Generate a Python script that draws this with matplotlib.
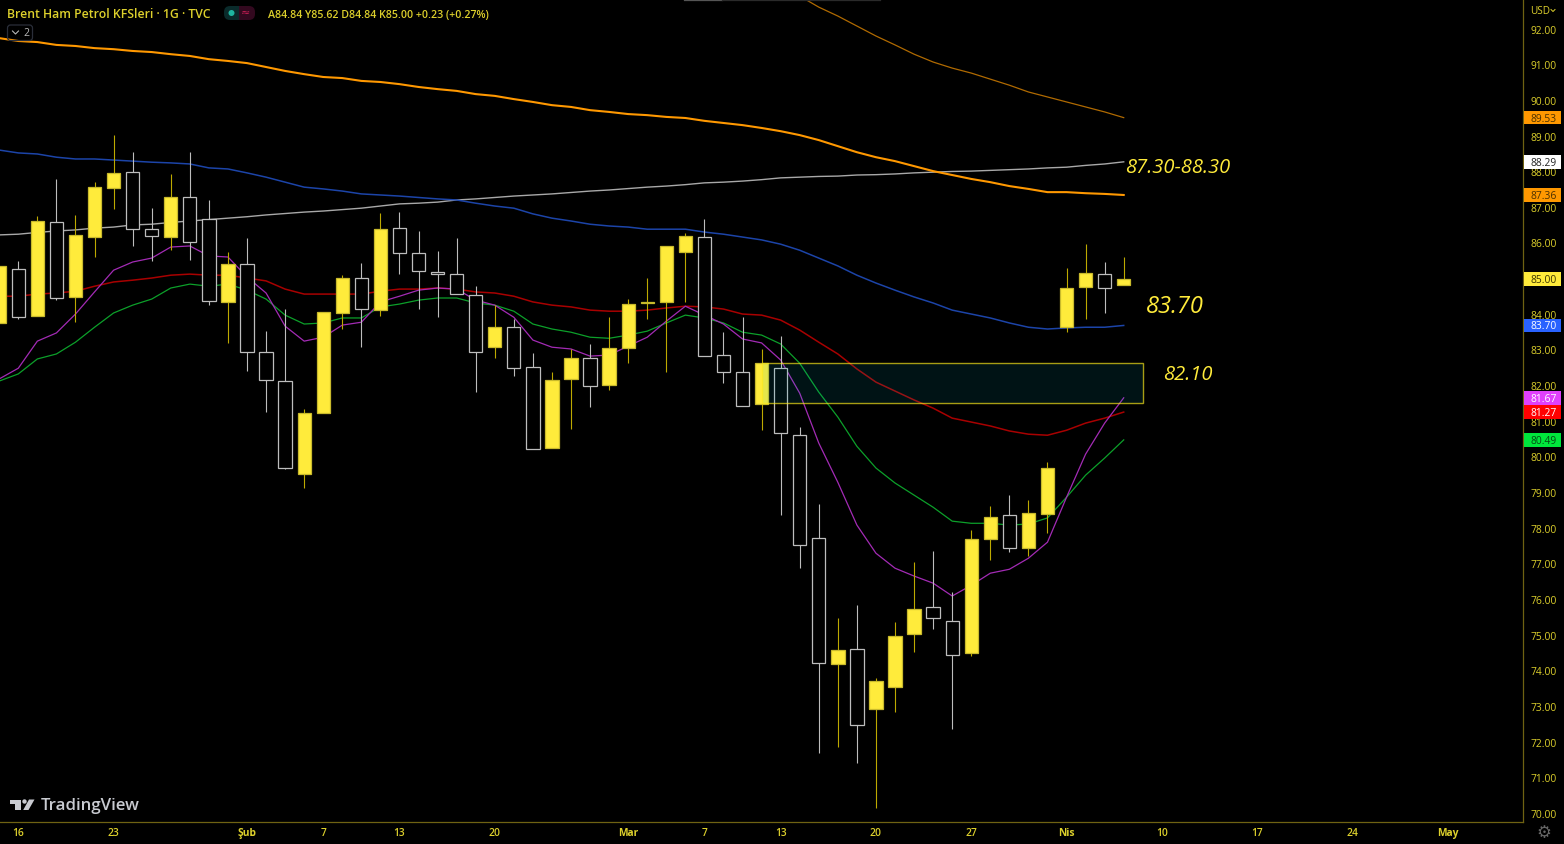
import matplotlib
matplotlib.use('Agg')
import matplotlib.pyplot as plt
from matplotlib.patches import Rectangle, FancyBboxPatch, Polygon, Circle
from matplotlib.transforms import blended_transform_factory
import numpy as np

W, H = 1564, 844

# daily candles, first one is cut by the left edge
opens = [83.77, 85.28, 83.96, 86.60, 84.50, 86.18, 87.55, 88.00, 86.40, 86.18, 87.30, 86.68, 84.36, 85.42, 82.95, 82.14,
         79.53, 81.24, 84.05, 85.03, 84.13, 86.43, 85.73, 85.20, 85.14, 84.55, 83.09, 83.65, 82.53, 80.26, 82.20, 82.78,
         82.03, 83.06, 84.33, 84.36, 85.76, 86.18, 82.87, 82.39, 81.49, 82.50, 80.62, 77.73, 74.20, 74.62, 72.94, 73.55,
         75.04, 75.80, 75.40, 74.51, 77.71, 78.38, 77.45, 78.41, 83.65, 84.78, 85.14, 84.84]
highs = [85.37, 85.51, 86.77, 87.81, 86.80, 87.72, 89.04, 88.56, 86.99, 87.95, 88.56, 87.22, 85.76, 86.15, 83.54, 84.16,
         81.35, 84.07, 85.11, 85.45, 86.85, 86.88, 86.35, 85.79, 86.15, 84.80, 84.27, 83.88, 82.92, 82.39, 83.04, 83.18,
         83.93, 84.44, 85.03, 85.93, 86.29, 86.68, 83.51, 83.93, 83.04, 83.40, 80.85, 78.69, 75.49, 75.85, 73.81, 75.38,
         77.06, 77.37, 76.22, 77.96, 78.63, 78.94, 78.80, 79.87, 85.31, 85.98, 85.48, 85.62]
lows = [83.77, 83.88, 83.96, 84.41, 83.79, 85.62, 86.97, 85.93, 85.51, 85.81, 85.53, 84.27, 83.20, 82.42, 81.27, 79.67,
        79.14, 81.24, 83.60, 83.09, 83.96, 85.14, 84.16, 83.93, 84.58, 81.83, 82.78, 82.28, 80.23, 80.26, 80.79, 81.41,
        81.89, 82.64, 83.88, 82.39, 84.36, 82.84, 82.08, 81.44, 80.76, 78.38, 76.89, 71.70, 71.87, 71.42, 70.16, 72.85,
        74.54, 75.18, 72.37, 74.42, 77.12, 77.34, 77.23, 77.87, 83.51, 83.88, 84.05, 84.84]
closes = [85.37, 83.93, 86.63, 84.47, 86.24, 87.58, 87.98, 86.40, 86.21, 87.30, 86.04, 84.38, 85.42, 82.95, 82.17, 79.70,
          81.24, 84.07, 85.03, 84.16, 86.40, 85.73, 85.23, 85.14, 84.58, 82.95, 83.65, 82.50, 80.23, 82.17, 82.78, 82.00,
          83.06, 84.30, 84.36, 85.93, 86.21, 82.84, 82.39, 81.44, 82.64, 80.68, 77.54, 74.23, 74.59, 72.49, 73.72, 74.98,
          75.74, 75.49, 74.45, 77.71, 78.32, 77.45, 78.44, 79.70, 84.75, 85.17, 84.75, 85.00]

ema_purple = [82.20, 82.50, 83.26, 83.49, 84.02, 84.64, 85.25, 85.48, 85.59, 85.90, 85.93, 85.65, 85.62, 85.06, 84.61,
              83.68, 83.26, 83.37, 83.71, 83.79, 84.36, 84.52, 84.69, 84.75, 84.72, 84.41, 84.27, 83.93, 83.29, 83.09,
              83.04, 82.84, 82.87, 83.12, 83.37, 83.82, 84.24, 83.99, 83.74, 83.32, 83.21, 82.73, 81.80, 80.40, 79.30,
              78.10, 77.31, 76.89, 76.67, 76.47, 76.11, 76.41, 76.75, 76.86, 77.17, 77.62, 78.88, 80.09, 80.96, 81.67]
ema_green = [82.14, 82.34, 82.76, 82.90, 83.23, 83.65, 84.05, 84.27, 84.44, 84.75, 84.86, 84.80, 84.86, 84.69, 84.44,
             83.99, 83.74, 83.77, 83.91, 83.91, 84.22, 84.30, 84.41, 84.47, 84.47, 84.33, 84.27, 84.10, 83.74, 83.60,
             83.51, 83.37, 83.34, 83.43, 83.54, 83.77, 83.99, 83.91, 83.77, 83.51, 83.43, 83.18, 82.64, 81.83, 81.13,
             80.31, 79.70, 79.28, 78.94, 78.60, 78.21, 78.15, 78.15, 78.10, 78.13, 78.30, 78.88, 79.50, 79.98, 80.49]
ema_red = [84.52, 84.52, 84.58, 84.61, 84.66, 84.80, 84.92, 84.97, 85.03, 85.11, 85.14, 85.11, 85.11, 85.03, 84.95,
           84.72, 84.58, 84.58, 84.58, 84.58, 84.66, 84.72, 84.72, 84.75, 84.72, 84.64, 84.61, 84.52, 84.36, 84.27,
           84.22, 84.13, 84.10, 84.10, 84.13, 84.19, 84.24, 84.22, 84.16, 84.02, 83.99, 83.85, 83.57, 83.23, 82.90,
           82.48, 82.11, 81.86, 81.61, 81.38, 81.10, 80.99, 80.88, 80.74, 80.65, 80.62, 80.76, 80.96, 81.10, 81.27]
ema_blue = [88.62, 88.54, 88.51, 88.42, 88.37, 88.37, 88.34, 88.31, 88.28, 88.26, 88.23, 88.12, 88.09, 87.98, 87.86,
            87.72, 87.58, 87.53, 87.47, 87.39, 87.36, 87.33, 87.29, 87.25, 87.22, 87.13, 87.05, 86.99, 86.83, 86.71,
            86.63, 86.54, 86.49, 86.46, 86.40, 86.40, 86.40, 86.32, 86.26, 86.18, 86.10, 85.98, 85.81, 85.59, 85.37,
            85.11, 84.89, 84.69, 84.50, 84.33, 84.13, 84.02, 83.91, 83.77, 83.65, 83.60, 83.63, 83.65, 83.65, 83.70]
sma_grey = [86.24, 86.26, 86.31, 86.35, 86.38, 86.43, 86.46, 86.52, 86.54, 86.59, 86.63, 86.67, 86.71, 86.75, 86.80,
            86.84, 86.88, 86.91, 86.95, 86.99, 87.05, 87.11, 87.13, 87.16, 87.22, 87.25, 87.29, 87.33, 87.36, 87.39,
            87.43, 87.47, 87.50, 87.54, 87.58, 87.61, 87.65, 87.70, 87.72, 87.75, 87.79, 87.84, 87.86, 87.88, 87.89,
            87.92, 87.93, 87.95, 87.98, 88.00, 88.02, 88.03, 88.05, 88.07, 88.09, 88.12, 88.14, 88.19, 88.23, 88.29]
ema_orange = [91.76, 91.68, 91.65, 91.57, 91.54, 91.48, 91.45, 91.40, 91.37, 91.31, 91.26, 91.17, 91.12, 91.06, 90.95,
              90.84, 90.75, 90.67, 90.64, 90.56, 90.53, 90.47, 90.39, 90.33, 90.28, 90.19, 90.14, 90.05, 89.97, 89.88,
              89.83, 89.74, 89.69, 89.63, 89.60, 89.55, 89.52, 89.44, 89.38, 89.32, 89.24, 89.15, 89.04, 88.90, 88.73,
              88.56, 88.42, 88.31, 88.17, 88.03, 87.92, 87.81, 87.72, 87.61, 87.53, 87.44, 87.44, 87.41, 87.39, 87.36]
# only the end of this one is inside the window
thin_orange = [92.94, 92.63, 92.38, 92.10, 91.82, 91.57, 91.31, 91.09, 90.92, 90.78, 90.61, 90.44, 90.25, 90.11, 89.97,
               89.83, 89.69, 89.53]

zone_low, zone_high = 81.52, 82.64

date_pos = [0, 5, 12, 16, 20, 25, 32, 36, 40, 45, 50, 55, 60, 65, 70, 75]
date_labels = ['16', '23', 'Şub', '7', '13', '20', 'Mar', '7', '13', '20', '27', 'Nis', '10', '17', '24', 'May']
month_labels = ['Şub', 'Mar', 'Nis', 'May']

price_ticks = list(range(70, 93))

tag_values = [89.53, 88.29, 87.36, 85.00, 83.70, 81.67, 81.27, 80.49]
tag_fills = ['#FF9800', '#FFFFFF', '#FF9800', '#FFEB3B', '#2962FF', '#E040FB', '#FF0000', '#00E63C']
tag_texts = ['#4a3000', '#222222', '#4a3000', '#3a3400', '#FFFFFF', '#FFFFFF', '#FFFFFF', '#044a14']

YELLOW = '#FFEB3B'
LABEL = '#DDD02C'
FONT = 'Open Sans'

plt.rcParams['font.family'] = [FONT, 'DejaVu Sans']

fig = plt.figure(figsize=(W / 100, H / 100), dpi=100, facecolor='black')
ax = fig.add_axes([0, 1 - 822 / H, 1523 / W, 822 / H], facecolor='black')

idx = np.arange(-1, 59)
ax.set_xlim(-0.96, 78.95)
ax.set_ylim(69.77, 92.83)

ax.plot(idx, sma_grey, color='#A8A8A8', lw=1.0, zorder=2)
ax.plot(idx, ema_orange, color='#FF9800', lw=1.5, zorder=2)
ax.plot(idx[-len(thin_orange):], thin_orange, color='#B06A00', lw=0.9, zorder=2)
ax.plot(idx, ema_blue, color='#1C44A8', lw=1.1, zorder=2)
ax.plot(idx, ema_red, color='#A80000', lw=1.1, zorder=2)
ax.plot(idx, ema_green, color='#0CA02A', lw=0.9, zorder=2)
ax.plot(idx, ema_purple, color='#A32BB5', lw=0.9, zorder=2)

for i, o, h, l, c in zip(idx, opens, highs, lows, closes):
    up = c >= o
    ax.vlines(i, l, h, color='#BDA900' if up else '#BDBDBD', lw=0.8, zorder=3)
    ax.bar(i, abs(c - o), bottom=min(o, c), width=0.7,
           facecolor=YELLOW if up else 'black',
           edgecolor='#C9BA2C' if up else '#BDBDBD',
           linewidth=0.9, zorder=4)

ax.add_patch(Rectangle((39, zone_low), 20, zone_high - zone_low, facecolor=(0, 0.74, 0.83, 0.1),
                       edgecolor=(1, 0.92, 0.1, 0.66), linewidth=1, zorder=5))

ax.text(58.07, 88.12, '87.30-88.30', color=YELLOW, fontsize=14.5, style='italic', fontweight='medium', va='center', zorder=6)
ax.text(59.17, 84.22, '83.70', color=YELLOW, fontsize=17, style='italic', fontweight='medium', va='center', zorder=6)
ax.text(60.06, 82.30, '82.10', color=YELLOW, fontsize=14.5, style='italic', fontweight='medium', va='center', zorder=6)

for s in ['top', 'left']:
    ax.spines[s].set_visible(False)
for s in ['right', 'bottom']:
    ax.spines[s].set_color('#6F6212')
    ax.spines[s].set_linewidth(0.9)
ax.set_axisbelow(True)

ax.yaxis.tick_right()
ax.set_yticks(price_ticks)
ax.set_yticklabels([f'{p:.2f}' for p in price_ticks], ha='center', va='center_baseline', fontsize=7.4, color=LABEL,
                   fontweight='medium')
ax.tick_params(axis='y', length=0, pad=15)
ax.set_xticks(date_pos)
ax.set_xticklabels(date_labels, fontsize=7.4, color=LABEL, va='center', fontweight='semibold')
ax.tick_params(axis='x', length=0, pad=8.6)
for t in ax.get_xticklabels():
    if t.get_text() in month_labels:
        t.set_fontweight('bold')

# price tags hang over the right scale
tr = blended_transform_factory(ax.transAxes, ax.transData)
for v, fill, tc in zip(tag_values, tag_fills, tag_texts):
    ax.add_patch(Rectangle((1524 / 1523, v - 0.19), 37 / 1523, 0.38, transform=tr, facecolor=fill,
                           edgecolor='none', clip_on=False, zorder=7))
    ax.text(1544 / 1523, v, f'{v:.2f}', transform=tr, color=tc, fontsize=7.4, ha='center', va='center_baseline',
            fontweight='medium', clip_on=False, zorder=8)

# everything around the chart, in screen pixels
chrome = fig.add_axes([0, 0, 1, 1], facecolor='none')
chrome.set_xlim(0, W)
chrome.set_ylim(H, 0)
chrome.axis('off')

chrome.text(7, 15, 'Brent Ham Petrol KFSleri · 1G · TVC', color=LABEL, fontsize=8.8, fontweight='semibold', va='center')
chrome.text(268, 15.5, 'A84.84 Y85.62 D84.84 K85.00 +0.23 (+0.27%)', color=LABEL, fontsize=7.68, fontweight='semibold', va='center')

chrome.add_patch(FancyBboxPatch((224, 6), 16, 14, boxstyle='round,pad=0,rounding_size=6', facecolor='#0A2B2B', edgecolor='none'))
chrome.add_patch(FancyBboxPatch((240, 6), 15, 14, boxstyle='round,pad=0,rounding_size=6', facecolor='#33091F', edgecolor='none'))
chrome.add_patch(Rectangle((234, 6), 6, 14, facecolor='#0A2B2B', edgecolor='none'))
chrome.add_patch(Rectangle((239, 6), 7, 14, facecolor='#33091F', edgecolor='none'))
chrome.add_patch(Circle((231.5, 13), 3, facecolor='#1FB5A0', edgecolor='none'))
chrome.text(246, 13, '≈', color='#C81E55', fontsize=8, ha='center', va='center', family='DejaVu Sans')

chrome.add_patch(FancyBboxPatch((7.5, 25), 25, 15.5, boxstyle='round,pad=0,rounding_size=3', facecolor='none', edgecolor='#2A2E39', linewidth=0.9))
chrome.plot([12.5, 15.5, 18.5], [31, 34, 31], color='#B8B8B8', lw=0.8)
chrome.text(26, 33, '2', color='#B8B8B8', fontsize=7.5, ha='center', va='center')

chrome.text(1540, 11, 'USD', color=LABEL, fontsize=7.2, ha='center', va='center')
chrome.plot([1551, 1553, 1555], [9.5, 11.5, 9.5], color=LABEL, lw=0.7)

chrome.plot([684, 722], [0.4, 0.4], color='#555555', lw=0.9)
chrome.plot([722, 880], [0.4, 0.4], color='#2A2A2A', lw=0.9)

logo = '#C9CBD1'
chrome.add_patch(Polygon([(9.5, 799.5), (21, 799.5), (21, 810), (15, 810), (15, 803.5), (9.5, 803.5)], facecolor=logo, edgecolor='none'))
chrome.add_patch(Circle((24.5, 801.5), 2.2, facecolor=logo, edgecolor='none'))
chrome.add_patch(Polygon([(29, 799.5), (34.5, 799.5), (28.5, 810), (23.2, 810)], facecolor=logo, edgecolor='none'))
chrome.text(41, 806, 'TradingView', color=logo, fontsize=12.2, fontweight='semibold', va='center')

chrome.text(1544, 833, '⚙', color='#666666', fontsize=12, ha='center', va='center', family='DejaVu Sans')

fig.savefig('out.png', dpi=100, facecolor='black')
